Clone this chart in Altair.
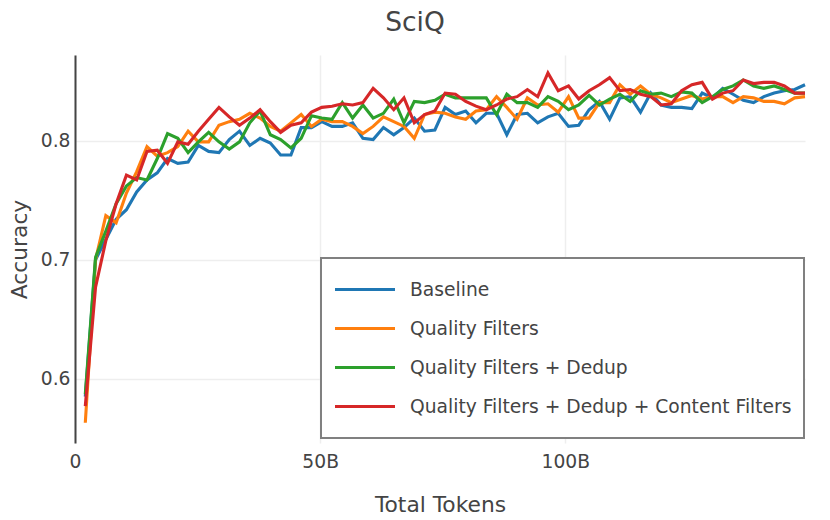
import altair as alt
import pandas as pd

# Total tokens (billions) at each checkpoint
tokens_b = [2.10, 4.19, 6.29, 8.39, 10.49, 12.58, 14.68, 16.78, 18.87, 20.97,
            23.07, 25.16, 27.26, 29.36, 31.46, 33.55, 35.65, 37.75, 39.84, 41.94,
            44.04, 46.13, 48.23, 50.33, 52.43, 54.52, 56.62, 58.72, 60.81, 62.91,
            65.01, 67.10, 69.20, 71.30, 73.40, 75.49, 77.59, 79.69, 81.78, 83.88,
            85.98, 88.07, 90.17, 92.27, 94.37, 96.46, 98.56, 100.66, 102.75, 104.85,
            106.95, 109.04, 111.14, 113.24, 115.34, 117.43, 119.53, 121.63, 123.72, 125.82,
            127.92, 130.01, 132.11, 134.21, 136.31, 138.40, 140.50, 142.60, 144.69, 146.79,
            148.89]

baseline = [0.585, 0.700, 0.717, 0.734, 0.742, 0.757, 0.767, 0.773, 0.785, 0.781,
            0.782, 0.796, 0.791, 0.790, 0.801, 0.808, 0.796, 0.802, 0.798, 0.788,
            0.788, 0.811, 0.811, 0.816, 0.812, 0.812, 0.815, 0.802, 0.801, 0.811,
            0.805, 0.811, 0.819, 0.808, 0.809, 0.828, 0.822, 0.825, 0.815, 0.823,
            0.823, 0.805, 0.822, 0.823, 0.815, 0.820, 0.823, 0.812, 0.813, 0.826,
            0.833, 0.818, 0.836, 0.837, 0.824, 0.840, 0.830, 0.828, 0.828, 0.827,
            0.840, 0.836, 0.844, 0.839, 0.834, 0.832, 0.837, 0.840, 0.842, 0.843,
            0.847]

quality = [0.563, 0.700, 0.737, 0.731, 0.756, 0.774, 0.795, 0.787, 0.790, 0.795,
           0.808, 0.799, 0.799, 0.813, 0.816, 0.818, 0.823, 0.819, 0.812, 0.808,
           0.815, 0.822, 0.812, 0.818, 0.816, 0.816, 0.812, 0.806, 0.812, 0.820,
           0.816, 0.812, 0.802, 0.822, 0.824, 0.823, 0.820, 0.818, 0.825, 0.826,
           0.837, 0.828, 0.818, 0.836, 0.830, 0.831, 0.824, 0.837, 0.819, 0.819,
           0.832, 0.832, 0.847, 0.839, 0.846, 0.839, 0.836, 0.832, 0.835, 0.838,
           0.835, 0.837, 0.837, 0.832, 0.837, 0.836, 0.833, 0.833, 0.831, 0.836,
           0.837]

dedup = [0.587, 0.702, 0.724, 0.747, 0.762, 0.769, 0.767, 0.785, 0.806, 0.802,
         0.790, 0.799, 0.807, 0.799, 0.793, 0.799, 0.815, 0.825, 0.805, 0.801,
         0.794, 0.802, 0.821, 0.819, 0.818, 0.832, 0.819, 0.830, 0.819, 0.823,
         0.835, 0.815, 0.833, 0.832, 0.834, 0.839, 0.836, 0.836, 0.836, 0.836,
         0.822, 0.839, 0.832, 0.832, 0.828, 0.837, 0.833, 0.826, 0.830, 0.838,
         0.830, 0.835, 0.839, 0.833, 0.842, 0.839, 0.840, 0.837, 0.841, 0.840,
         0.832, 0.837, 0.843, 0.846, 0.851, 0.846, 0.844, 0.846, 0.843, 0.840,
         0.840]

content = [0.577, 0.677, 0.716, 0.747, 0.771, 0.767, 0.791, 0.792, 0.781, 0.799,
           0.797, 0.808, 0.818, 0.828, 0.820, 0.813, 0.819, 0.826, 0.816, 0.807,
           0.813, 0.815, 0.824, 0.828, 0.829, 0.831, 0.830, 0.832, 0.844, 0.836,
           0.826, 0.836, 0.815, 0.822, 0.825, 0.840, 0.839, 0.833, 0.829, 0.826,
           0.830, 0.835, 0.837, 0.843, 0.837, 0.857, 0.842, 0.846, 0.835, 0.842,
           0.847, 0.853, 0.842, 0.843, 0.839, 0.837, 0.830, 0.831, 0.842, 0.847,
           0.849, 0.835, 0.840, 0.842, 0.851, 0.848, 0.849, 0.849, 0.846, 0.840,
           0.840]

series_names = ["Baseline", "Quality Filters", "Quality Filters + Dedup",
                "Quality Filters + Dedup + Content Filters"]
series_colors = ["#1f77b4", "#ff7f0e", "#2ca02c", "#d62728"]
x_ticks = [0, 50, 100]
y_ticks = [0.6, 0.7, 0.8]

rows = []
for name, vals in zip(series_names, [baseline, quality, dedup, content]):
    for t, v in zip(tokens_b, vals):
        rows.append({"tokens": t, "accuracy": v, "series": name})
df = pd.DataFrame(rows)

FONT = "DejaVu Sans"
TXT = "#444444"

base = alt.Chart(df).mark_line(strokeWidth=3.1).encode(
    x=alt.X("tokens:Q",
            scale=alt.Scale(domain=[0, 148.89], nice=False, zero=False),
            axis=alt.Axis(values=x_ticks,
                          labelExpr="datum.value == 0 ? '0' : datum.value + 'B'",
                          title="Total Tokens", grid=True, gridColor="#eeeeee",
                          gridWidth=1.5, domain=False, ticks=False,
                          labelFlush=False, labelPadding=9, titlePadding=24)),
    y=alt.Y("accuracy:Q",
            scale=alt.Scale(domain=[0.546, 0.872], nice=False, zero=False),
            axis=alt.Axis(values=y_ticks, format=".1f", title="Accuracy",
                          grid=True, gridColor="#eeeeee", gridWidth=1.5,
                          domain=True, domainColor=TXT, domainWidth=2,
                          ticks=False, labelFlush=False, labelPadding=5,
                          titlePadding=9)),
    color=alt.Color("series:N",
                    scale=alt.Scale(domain=series_names, range=series_colors),
                    legend=alt.Legend(title=None, orient="none", legendX=246,
                                      legendY=203, symbolType="stroke",
                                      symbolSize=3600, symbolStrokeWidth=3.1,
                                      labelOffset=13, clipHeight=39,
                                      rowPadding=0, padding=12,
                                      labelLimit=700, labelFontSize=18.7,
                                      labelFont=FONT, labelColor=TXT,
                                      strokeColor="#808080", fillColor="#ffffff")),
)

layers = [base.transform_filter(alt.datum.series == name) for name in series_names]

chart = alt.layer(*layers).properties(
    width=730,
    height=388,
    title=alt.Title("SciQ", fontSize=26.5, font=FONT, color=TXT,
                    fontWeight="normal", anchor="middle", dx=-25,
                    offset=-2, baseline="alphabetic"),
    autosize=alt.AutoSizeParams(type="none"),
    padding={"left": 67, "top": 47, "right": 17, "bottom": 77},
).configure_view(strokeWidth=0).configure_axis(
    labelFont=FONT, labelFontSize=18.7, labelColor=TXT,
    titleFont=FONT, titleFontSize=21.8, titleColor=TXT, titleFontWeight="normal",
).configure_legend(strokeWidth=2)

chart.save("out.html", embed_options={"renderer": "svg", "actions": False})
